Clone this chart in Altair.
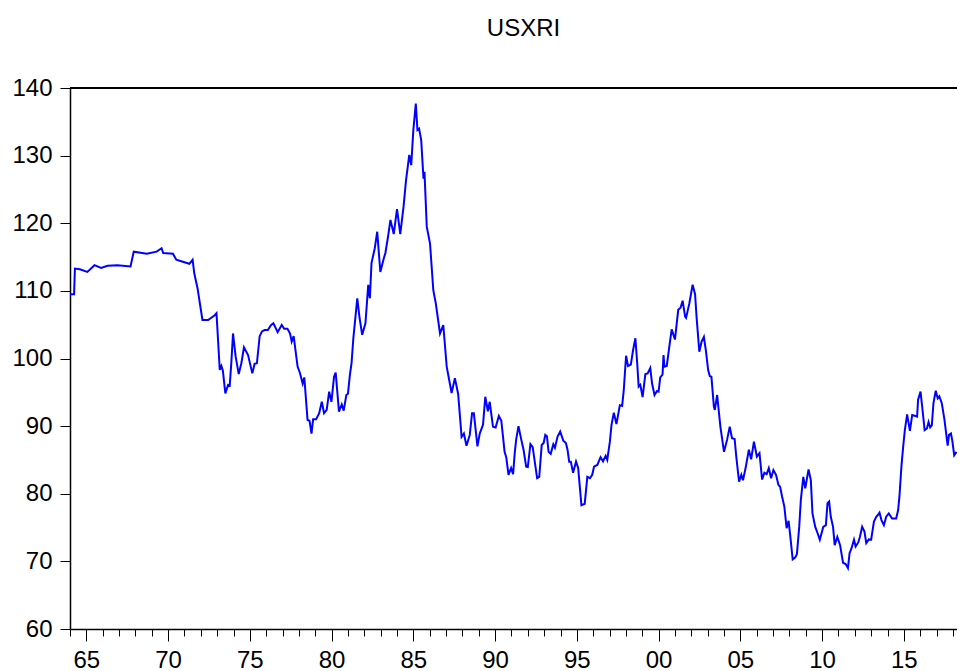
import altair as alt
import pandas as pd

years = [
    1964.00, 1964.25, 1964.30, 1964.60, 1965.06, 1965.50, 1965.90, 1966.30, 1966.90, 1967.70,
    1967.90, 1968.70, 1969.30, 1969.60, 1969.70, 1970.30, 1970.50, 1970.90, 1971.30, 1971.50,
    1971.60, 1971.80, 1972.10, 1972.45, 1972.85, 1972.96, 1973.16, 1973.26, 1973.35, 1973.50,
    1973.67, 1973.77, 1973.87, 1973.97, 1974.13, 1974.32, 1974.48, 1974.64, 1974.89, 1975.15,
    1975.29, 1975.43, 1975.60, 1975.74, 1975.90, 1976.10, 1976.30, 1976.44, 1976.70, 1976.95,
    1977.10, 1977.30, 1977.46, 1977.56, 1977.68, 1977.92, 1978.06, 1978.23, 1978.33, 1978.53,
    1978.65, 1978.77, 1978.87, 1979.05, 1979.24, 1979.40, 1979.54, 1979.70, 1979.85, 1979.99,
    1980.15, 1980.25, 1980.45, 1980.62, 1980.74, 1980.90, 1981.00, 1981.12, 1981.22, 1981.33,
    1981.57, 1981.70, 1981.87, 1982.07, 1982.24, 1982.34, 1982.44, 1982.64, 1982.79, 1982.98,
    1983.19, 1983.29, 1983.45, 1983.60, 1983.80, 1984.00, 1984.20, 1984.40, 1984.55, 1984.75,
    1984.87, 1985.00, 1985.15, 1985.25, 1985.35, 1985.48, 1985.62, 1985.68, 1985.82, 1986.02,
    1986.22, 1986.37, 1986.63, 1986.83, 1987.04, 1987.34, 1987.54, 1987.74, 1987.95, 1988.09,
    1988.25, 1988.45, 1988.59, 1988.70, 1988.92, 1989.06, 1989.26, 1989.40, 1989.56, 1989.67,
    1989.87, 1990.03, 1990.23, 1990.38, 1990.58, 1990.68, 1990.82, 1990.98, 1991.10, 1991.20,
    1991.29, 1991.43, 1991.60, 1991.74, 1991.90, 1992.00, 1992.16, 1992.30, 1992.44, 1992.57,
    1992.70, 1992.85, 1992.97, 1993.07, 1993.17, 1993.27, 1993.40, 1993.56, 1993.66, 1993.82,
    1993.98, 1994.17, 1994.33, 1994.43, 1994.53, 1994.63, 1994.77, 1994.95, 1995.08, 1995.18,
    1995.28, 1995.48, 1995.64, 1995.80, 1995.94, 1996.05, 1996.25, 1996.45, 1996.60, 1996.76,
    1996.86, 1997.02, 1997.12, 1997.26, 1997.42, 1997.63, 1997.77, 1997.87, 1998.01, 1998.13,
    1998.30, 1998.44, 1998.58, 1998.68, 1998.78, 1998.88, 1999.02, 1999.19, 1999.33, 1999.49,
    1999.60, 1999.75, 1999.90, 2000.00, 2000.10, 2000.24, 2000.30, 2000.36, 2000.50, 2000.64,
    2000.80, 2001.00, 2001.20, 2001.34, 2001.47, 2001.62, 2001.68, 2001.88, 2002.08, 2002.23,
    2002.32, 2002.49, 2002.63, 2002.77, 2002.89, 2003.03, 2003.13, 2003.23, 2003.38, 2003.44,
    2003.58, 2003.78, 2004.00, 2004.19, 2004.35, 2004.49, 2004.65, 2004.75, 2004.92, 2005.06,
    2005.16, 2005.32, 2005.52, 2005.66, 2005.83, 2006.01, 2006.17, 2006.33, 2006.47, 2006.61,
    2006.74, 2006.88, 2007.02, 2007.18, 2007.33, 2007.43, 2007.55, 2007.69, 2007.83, 2007.95,
    2008.06, 2008.20, 2008.36, 2008.46, 2008.60, 2008.70, 2008.85, 2008.97, 2009.17, 2009.31,
    2009.41, 2009.58, 2009.72, 2009.86, 2010.07, 2010.23, 2010.33, 2010.43, 2010.53, 2010.67,
    2010.77, 2010.93, 2011.10, 2011.28, 2011.44, 2011.58, 2011.68, 2011.80, 2011.95, 2012.05,
    2012.21, 2012.31, 2012.45, 2012.59, 2012.70, 2012.86, 2013.00, 2013.17, 2013.31, 2013.41,
    2013.51, 2013.63, 2013.78, 2013.92, 2014.08, 2014.28, 2014.53, 2014.65, 2014.73, 2014.85,
    2014.96, 2015.06, 2015.20, 2015.37, 2015.51, 2015.71, 2015.81, 2015.87, 2016.02, 2016.12,
    2016.27, 2016.41, 2016.51, 2016.61, 2016.71, 2016.81, 2016.95, 2017.07, 2017.17, 2017.32,
    2017.48, 2017.68, 2017.76, 2017.88, 2017.96, 2018.08, 2018.22,
]

values = [
    109.5, 109.5, 113.3, 113.2, 112.8, 113.8, 113.4, 113.7, 113.8, 113.6,
    115.8, 115.5, 115.8, 116.3, 115.6, 115.5, 114.6, 114.3, 114.0, 114.6,
    112.6, 110.4, 105.7, 105.7, 106.4, 106.7, 98.3, 98.9, 98.2, 94.85,
    96.1, 96.0, 99.5, 103.7, 100.3, 97.7, 99.3, 101.65, 100.5, 97.8,
    99.2, 99.3, 103.3, 104.0, 104.2, 104.2, 104.95, 105.2, 103.9, 104.95,
    104.4, 104.4, 103.7, 102.5, 103.3, 98.8, 97.9, 96.3, 97.2, 90.9,
    90.8, 88.9, 91.0, 91.0, 91.9, 93.6, 91.9, 92.4, 95.1, 93.6,
    97.3, 97.9, 92.15, 93.2, 92.3, 94.6, 94.8, 97.6, 99.3, 103.0,
    108.9, 106.2, 103.5, 105.2, 110.9, 108.9, 114.1, 116.3, 118.75, 112.8,
    114.8, 115.6, 118.0, 120.5, 118.4, 122.1, 118.4, 122.45, 126.3, 130.1,
    128.6, 133.8, 137.7, 133.8, 134.0, 132.3, 126.6, 127.6, 119.5, 117.0,
    110.1, 108.2, 103.7, 104.95, 98.8, 94.9, 97.1, 94.75, 88.4, 88.9,
    87.1, 88.7, 91.9, 91.9, 87.0, 88.9, 90.2, 94.35, 92.2, 93.6,
    89.9, 89.8, 91.5, 90.8, 86.2, 85.4, 82.8, 83.8, 82.9, 86.0,
    88.05, 90.0, 88.0, 86.5, 84.0, 83.95, 87.35, 86.9, 84.5, 82.3,
    82.5, 87.2, 87.5, 88.7, 88.5, 86.2, 85.9, 87.3, 86.8, 88.45,
    89.2, 87.85, 87.5, 86.5, 84.75, 84.75, 83.1, 84.75, 83.8, 81.05,
    78.3, 78.5, 82.5, 82.3, 82.8, 84.0, 84.25, 85.4, 84.8, 85.6,
    85.0, 87.7, 90.2, 92.0, 90.3, 93.1, 93.0, 95.35, 100.4, 98.9,
    99.1, 101.25, 103.0, 99.7, 95.85, 96.1, 94.3, 97.7, 97.8, 98.6,
    96.3, 94.6, 95.2, 95.1, 97.2, 97.6, 100.5, 98.8, 98.9, 101.5,
    104.3, 102.8, 107.2, 107.5, 108.55, 106.2, 106.0, 108.15, 110.9, 109.5,
    106.2, 101.0, 102.5, 103.2, 101.2, 98.3, 97.4, 97.3, 92.9, 92.4,
    94.6, 89.9, 86.2, 88.0, 89.9, 88.2, 88.1, 85.5, 81.8, 82.8,
    82.0, 83.8, 86.5, 85.1, 87.7, 85.5, 86.0, 82.1, 83.1, 82.9,
    83.8, 82.3, 83.5, 82.8, 81.3, 81.05, 79.6, 78.1, 74.9, 76.0,
    73.6, 70.3, 70.6, 71.1, 75.1, 79.1, 82.5, 80.8, 83.6, 82.0,
    77.1, 75.1, 74.2, 73.2, 75.1, 75.35, 78.6, 78.85, 76.6, 75.1,
    72.4, 73.6, 72.4, 69.8, 69.6, 69.0, 71.2, 71.95, 73.2, 72.2,
    72.8, 73.6, 75.1, 74.4, 72.7, 73.25, 73.2, 75.9, 76.6, 76.85,
    77.2, 76.1, 75.35, 76.6, 77.1, 76.35, 76.35, 77.6, 79.6, 84.0,
    87.0, 89.4, 91.75, 89.3, 91.65, 91.5, 91.4, 93.9, 95.1, 92.9,
    89.4, 89.65, 90.6, 89.8, 90.1, 93.4, 95.25, 94.1, 94.4, 93.4,
    91.0, 87.1, 88.7, 88.9, 87.9, 85.7, 86.2,
]

year_ticks = list(range(1964, 2019))
y_ticks = [60, 70, 80, 90, 100, 110, 120, 130, 140]
top_value = [140]

df = pd.DataFrame({"year": years, "value": values})
top_df = pd.DataFrame({"y": top_value})

FONT = "Liberation Sans"

x_scale = alt.Scale(domain=[1964, 2018.25], nice=False, zero=False)
y_scale = alt.Scale(domain=[60, 140], nice=False, zero=False)

label_expr = (
    "datum.value % 5 === 0 ? ((datum.value % 100) < 10 ? '0' : '') + (datum.value % 100) : ''"
)

line = alt.Chart(df).mark_line(color="#0000FF", strokeWidth=2).encode(
    x=alt.X(
        "year:Q",
        scale=x_scale,
        axis=alt.Axis(
            values=year_ticks,
            title=None,
            grid=False,
            labelExpr=label_expr,
            labelOverlap=False,
            labelFlush=False,
            labelFont=FONT,
            labelFontSize=24,
            labelColor="black",
            labelPadding=7,
            tickSize={"condition": {"test": "datum.value % 5 === 0", "value": 12}, "value": 7},
            tickColor="black",
            tickWidth=1,
            domainColor="black",
            domainWidth=1.5,
        ),
    ),
    y=alt.Y(
        "value:Q",
        scale=y_scale,
        axis=alt.Axis(
            values=y_ticks,
            title=None,
            grid=False,
            labelFont=FONT,
            labelFontSize=24,
            labelColor="black",
            labelPadding=8,
            labelFlush=False,
            labelOverlap=False,
            tickSize=10,
            tickColor="black",
            tickWidth=1,
            domainColor="black",
            domainWidth=1.5,
        ),
    ),
)

top_rule = alt.Chart(top_df).mark_rule(color="black", strokeWidth=2).encode(
    y=alt.Y("y:Q", scale=y_scale)
)

chart = (
    alt.layer(top_rule, line)
    .properties(
        width=887,
        height=541,
        title=alt.TitleParams(
            "USXRI",
            font=FONT,
            fontSize=24,
            fontWeight="normal",
            color="black",
            anchor="middle",
            offset=35,
            dx=10,
        ),
        autosize=alt.AutoSizeParams(type="none"),
        padding={"left": 62, "top": 80, "right": 0, "bottom": 42},
    )
    .configure_view(stroke=None)
    .configure(background="white")
)

chart.save("out.html", embed_options={"renderer": "svg", "actions": False})
